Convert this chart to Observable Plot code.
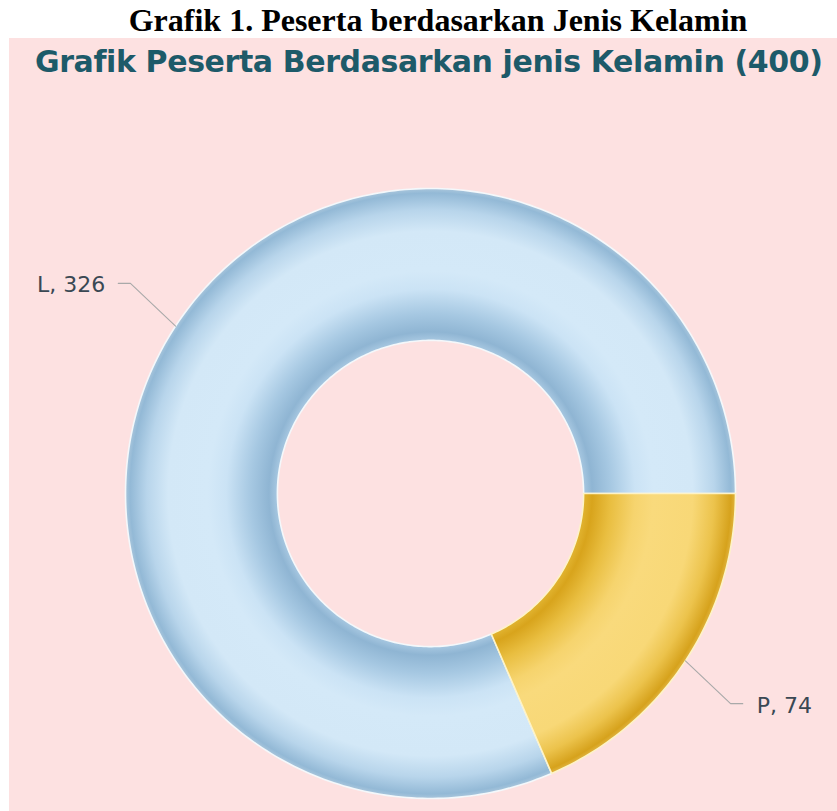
<!DOCTYPE html>
<html>
<head>
<meta charset="utf-8">
<script src="https://cdn.jsdelivr.net/npm/d3@7"></script>
<script src="https://cdn.jsdelivr.net/npm/@observablehq/plot@0.6"></script>
<style>
  html, body { margin: 0; padding: 0; background: #ffffff; }
  #page { position: relative; width: 837px; height: 811px; overflow: hidden; background: #ffffff; }
  #doc-title { position: absolute; left: 0; top: 4px; width: 876px; text-align: center;
    font-family: "Liberation Serif", "Times New Roman", serif; font-weight: bold; font-size: 32px; line-height: 32px; color: #000; }
  #panel { position: absolute; left: 9px; top: 38px; width: 828px; height: 773px; background: #fde1e1; }
  #chart-title { position: absolute; left: 26px; top: 9px; white-space: nowrap; letter-spacing: -0.4px;
    font-family: "DejaVu Sans", Verdana, sans-serif; font-weight: bold; font-size: 30px; line-height: 30px; color: #1d5a69; }
  #chart { position: absolute; left: 0; top: 0; }
</style>
</head>
<body>
<div id="page">
  <div id="doc-title"></div>
  <div id="panel">
    <div id="chart"></div>
    <div id="chart-title"></div>
  </div>
</div>
<script>
// ---- data ----
const docTitle = "Grafik 1. Peserta berdasarkan Jenis Kelamin";
const chartTitle = "Grafik Peserta Berdasarkan jenis Kelamin";
const categories = ["L", "P"];
const values = [326, 74];

// ---- styles ----
const gradIds = {L: "gradL", P: "gradP"};
const innerRatio = 0.502;

const total = d3.sum(values);
document.getElementById("doc-title").textContent = docTitle;
document.getElementById("chart-title").textContent = `${chartTitle} (${total})`;

const rows = categories.map((c, i) => ({key: c, value: values[i]}));
const pie = d3.pie().value(d => d.value)
  .sort((a, b) => d3.ascending(a.value, b.value))
  .startAngle(Math.PI / 2).endAngle(Math.PI / 2 + 2 * Math.PI);
const arcs = pie(rows);

// ring polygons (data space, unit outer radius)
const ring = [];
for (const a of arcs) {
  const n = Math.max(8, Math.ceil((a.endAngle - a.startAngle) / (2 * Math.PI) * 360));
  const pts = [];
  for (let i = 0; i <= n; i++) {
    const t = a.startAngle + (a.endAngle - a.startAngle) * i / n;
    pts.push({key: a.data.key, x: Math.sin(t), y: Math.cos(t)});
  }
  for (let i = n; i >= 0; i--) {
    const t = a.startAngle + (a.endAngle - a.startAngle) * i / n;
    pts.push({key: a.data.key, x: innerRatio * Math.sin(t), y: innerRatio * Math.cos(t)});
  }
  pts.push({...pts[0]});
  ring.push(...pts);
}

// leader lines & labels
const leaders = [];
const labels = [];
for (const a of arcs) {
  const m = (a.startAngle + a.endAngle) / 2;
  const sx = Math.sign(Math.sin(m)), sy = Math.sign(Math.cos(m));
  const x0 = Math.sin(m), y0 = Math.cos(m);
  const x1 = x0 + sx * 0.148, y1 = y0 + sy * 0.14;
  const x2 = x1 + sx * 0.04;
  leaders.push({key: a.data.key, x: x0, y: y0}, {key: a.data.key, x: x1, y: y1}, {key: a.data.key, x: x2, y: y1});
  labels.push({x: x2, y: y1, side: sx, text: `${a.data.key}, ${a.data.value}`});
}

const cx = 421, cy = 455, R = 305;

const svg = Plot.plot({
  width: 828,
  height: 773,
  margin: 0,
  x: {domain: [-1, 1], range: [cx - R, cx + R], axis: null},
  y: {domain: [-1, 1], range: [cy + R, cy - R], axis: null},
  style: {background: "transparent", overflow: "visible"},
  marks: [
    Plot.line(ring.filter(d => d.key === "L"), {x: "x", y: "y", fill: "url(#gradL)", stroke: "#f4f8fb", strokeWidth: 1.6, curve: "linear"}),
    Plot.line(ring.filter(d => d.key === "P"), {x: "x", y: "y", fill: "url(#gradP)", stroke: "#fdf3c8", strokeWidth: 1.6, curve: "linear"}),
    Plot.line(leaders, {x: "x", y: "y", z: "key", stroke: "#a9a9a9", strokeWidth: 1.1}),
    Plot.text(labels.filter(d => d.side < 0), {x: "x", y: "y", text: "text", textAnchor: "end", dx: -13, dy: 2,
      fontSize: 22, fontFamily: "DejaVu Sans, Verdana, sans-serif", fill: "#3a4853"}),
    Plot.text(labels.filter(d => d.side > 0), {x: "x", y: "y", text: "text", textAnchor: "start", dx: 14, dy: 2,
      fontSize: 22, fontFamily: "DejaVu Sans, Verdana, sans-serif", fill: "#3a4853"})
  ]
});

// radial gradients giving the tube-like shading
const defs = d3.select(svg).insert("defs", ":first-child");
function addGrad(id, stops) {
  const g = defs.append("radialGradient").attr("id", id)
    .attr("gradientUnits", "userSpaceOnUse")
    .attr("cx", cx).attr("cy", cy).attr("r", R).attr("fx", cx).attr("fy", cy);
  for (const [o, c] of stops) g.append("stop").attr("offset", o).attr("stop-color", c);
}
addGrad(gradIds.L, [
  [0.50, "#a9c9e2"], [0.53, "#8fb5d3"], [0.59, "#a6c8e2"], [0.67, "#cbe3f5"],
  [0.73, "#d4e9f8"], [0.86, "#d3e8f7"], [0.93, "#b8d5eb"], [0.985, "#93b9d6"], [1.0, "#a9c6dc"]
]);
addGrad(gradIds.P, [
  [0.50, "#e2b532"], [0.53, "#d8a41c"], [0.59, "#e9be40"], [0.67, "#f6d46e"],
  [0.73, "#f9da7c"], [0.86, "#f8d877"], [0.93, "#ecc34c"], [0.985, "#d6a21c"], [1.0, "#e0b440"]
]);

document.getElementById("chart").appendChild(svg);
</script>
</body>
</html>
